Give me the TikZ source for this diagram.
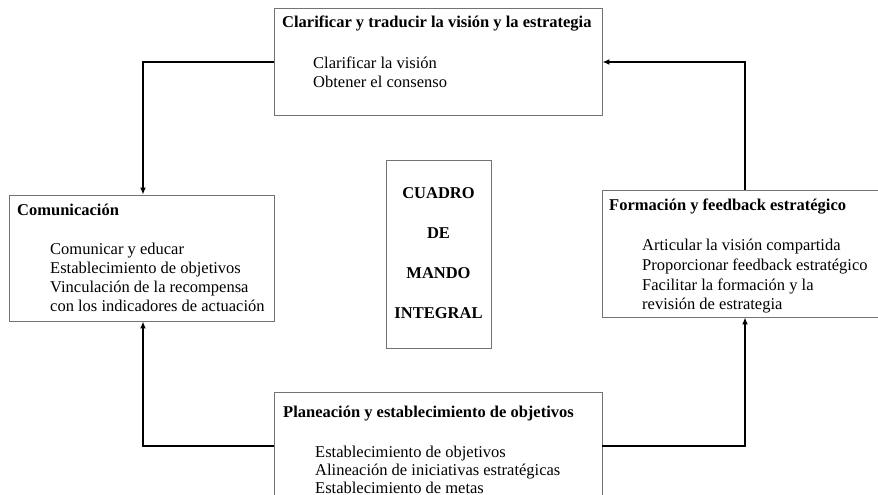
\documentclass[tikz,border=0pt]{standalone}
\usepackage{fontspec}
\setmainfont{Liberation Serif}
\usetikzlibrary{arrows.meta}
\tikzset{
  boxst/.style={draw=black!55, line width=0.9pt, fill=white, rectangle, inner sep=0pt},
  txt/.style={anchor=base west, inner sep=0pt, font=\fontsize{16.5}{20}\selectfont},
  ttl/.style={txt, font=\fontsize{16.5}{20}\selectfont\bfseries},
  ctr/.style={anchor=base, inner sep=0pt, font=\fontsize{16.5}{20}\selectfont\bfseries},
  arr/.style={draw=black, line width=2pt, -{Latex[length=7pt,width=6pt]}}
}
\begin{document}
\begin{tikzpicture}[x=1pt,y=-1pt]
\useasboundingbox (0,0) rectangle (878,495);
\clip (0,0) rectangle (878,495);
% boxes
\node[boxst, minimum width=328pt, minimum height=107pt] (top) at (438,61.5) {};
\node[boxst, minimum width=265pt, minimum height=126pt] (com) at (141.5,258) {};
\node[boxst, minimum width=286pt, minimum height=127pt] (form) at (745,253.5) {};
\node[boxst, minimum width=328pt, minimum height=110pt] (plan) at (438,447) {};
\node[boxst, minimum width=105pt, minimum height=188pt] (mid) at (438.5,254) {};
\coordinate (lx) at (143,0);
\coordinate (ty) at (0,62);
\coordinate (by) at (0,446);
% connectors
\draw[arr] (top.west |- ty) -| (lx |- com.north);
\draw[arr] (plan.west |- by) -| (lx |- com.south);
\draw[arr] (plan.east |- by) -| (form.south);
\draw[arr] (form.north) |- (top.east |- ty);
% top box text
\node[ttl] (t0) at (282,28) {Clarificar y traducir la visión y la estrategia};
\node[txt] (t1) at (313,68) {Clarificar la visión};
\node[txt] (t2) at (313,88) {Obtener el consenso};
% comunicacion
\node[ttl] (c0) at (17,215) {Comunicación};
\node[txt] (c1) at (50,254) {Comunicar y educar};
\node[txt] (c2) at (50,273) {Establecimiento de objetivos};
\node[txt] (c3) at (50,292) {Vinculación de la recompensa};
\node[txt] (c4) at (50,311) {con los indicadores de actuación};
% formacion
\node[ttl] (f0) at (609,210) {Formación y feedback estratégico};
\node[txt] (f1) at (642,250) {Articular la visión compartida};
\node[txt] (f2) at (642,270) {Proporcionar feedback estratégico};
\node[txt] (f3) at (642,290) {Facilitar la formación y la};
\node[txt] (f4) at (642,309) {revisión de estrategia};
% planeacion
\node[ttl] (p0) at (283,417) {Planeación y establecimiento de objetivos};
\node[txt] (p1) at (315,457) {Establecimiento de objetivos};
\node[txt] (p2) at (315,475) {Alineación de iniciativas estratégicas};
\node[txt] (p3) at (315,493) {Establecimiento de metas};
% center
\node[ctr] (m1) at (438.5,198) {CUADRO};
\node[ctr] (m2) at (438.5,238) {DE};
\node[ctr] (m3) at (438.5,278) {MANDO};
\node[ctr] (m4) at (438.5,318) {INTEGRAL};
\end{tikzpicture}
\end{document}
